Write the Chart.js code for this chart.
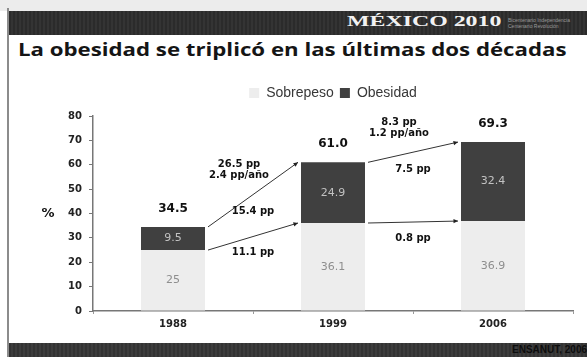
<!DOCTYPE html>
<html>
<head>
<meta charset="utf-8">
<script src="https://cdn.jsdelivr.net/npm/chart.js@4.4.1/dist/chart.umd.min.js"></script>
<style>
  html, body { margin: 0; padding: 0; background: #fff; }
  #slide { position: relative; width: 587px; height: 357px; overflow: hidden; background: #fff; }
  #topstrip { position: absolute; left: 0; top: 0; width: 587px; height: 11px; background: #ececec; }
  #border { position: absolute; left: 7px; top: 8px; width: 2px; height: 349px; background: #8c8c8c; }
  #header { position: absolute; left: 9px; top: 11px; width: 578px; height: 24px;
            background: repeating-linear-gradient(90deg, #2b2b2b 0 2px, #343434 2px 4px); }
  #brand { position: absolute; left: 347px; top: 14px; font: bold 14px "Liberation Serif"; color: #f2f2f2;
           transform-origin: 0 0; white-space: nowrap; }
  #bicent { position: absolute; left: 508px; top: 17px; font: 5px "Liberation Sans"; line-height: 6px;
            color: #9a9a9a; white-space: nowrap; }
  #title { position: absolute; left: 18px; top: 38px; font: bold 17px "Open Sans"; color: #151515;
           transform-origin: 0 0; white-space: nowrap; }
  #footer { position: absolute; left: 9px; top: 343px; width: 578px; height: 14px;
            background: repeating-linear-gradient(90deg, #333 0 2px, #3d3d3d 2px 4px); }
  #source { position: absolute; left: 512px; top: 344px; font: bold 10px "Liberation Sans"; color: #0d0d0d;
            white-space: nowrap; }
  #chartBox { position: absolute; left: 0; top: 80px; width: 587px; height: 263px; }
</style>
</head>
<body>
<div id="slide">
  <div id="topstrip"></div>
  <div id="header"></div>
  <div id="border"></div>
  <div id="brand">MÉXICO 2010</div>
  <div id="bicent">Bicentenario Independencia<br>Centenario Revolución</div>
  <div id="title">La obesidad se triplicó en las últimas dos décadas</div>
  <div id="chartBox"><canvas id="chart" width="587" height="263"></canvas></div>
  <div id="footer"></div>
  <div id="source">ENSANUT, 2006</div>
</div>
<script>
const years = ['1988', '1999', '2006'];
const sobrepeso = [25, 36.1, 36.9];
const obesidad = [9.5, 24.9, 32.4];
const totals = ['34.5', '61.0', '69.3'];
const totalChange = ['26.5 pp', '8.3 pp'];
const totalRate = ['2.4 pp/año', '1.2 pp/año'];
const obesidadChange = ['15.4 pp', '7.5 pp'];
const sobrepesoChange = ['11.1 pp', '0.8 pp'];

// stretch header texts to the widths seen on the slide
function fitWidth(id, w) {
  const el = document.getElementById(id);
  el.style.transform = 'scaleX(' + (w / el.offsetWidth) + ')';
}
fitWidth('brand', 155);
fitWidth('title', 549);

function arrow(ctx, x0, y0, x1, y1) {
  const a = Math.atan2(y1 - y0, x1 - x0);
  ctx.beginPath();
  ctx.moveTo(x0, y0);
  ctx.lineTo(x1, y1);
  ctx.stroke();
  ctx.beginPath();
  ctx.moveTo(x1, y1);
  ctx.lineTo(x1 - 5 * Math.cos(a - 0.45), y1 - 5 * Math.sin(a - 0.45));
  ctx.lineTo(x1 - 5 * Math.cos(a + 0.45), y1 - 5 * Math.sin(a + 0.45));
  ctx.closePath();
  ctx.fill();
}

// extra space under the legend
const legendGap = {
  id: 'legendGap',
  beforeInit(chart) {
    const fit = chart.legend.fit;
    chart.legend.fit = function () {
      fit.call(this);
      this.height += 6;
    };
  }
};

const annotate = {
  id: 'annotate',
  afterDatasetsDraw(chart) {
    const { ctx, scales: { y } } = chart;
    const sob = chart.getDatasetMeta(0).data;
    const obe = chart.getDatasetMeta(1).data;
    ctx.save();
    ctx.textAlign = 'center';
    ctx.textBaseline = 'middle';

    sob.forEach((bar, i) => {
      ctx.font = '11px "DejaVu Sans"';
      ctx.fillStyle = '#8e8e8e';
      ctx.fillText(String(sobrepeso[i]), bar.x, (bar.y + bar.base) / 2);
    });
    obe.forEach((bar, i) => {
      ctx.font = '11px "DejaVu Sans"';
      ctx.fillStyle = '#c2c2c2';
      ctx.fillText(String(obesidad[i]), bar.x, (bar.y + bar.base) / 2);
      ctx.font = 'bold 12px "DejaVu Sans"';
      ctx.fillStyle = '#111';
      ctx.fillText(totals[i], bar.x, bar.y - 18);
    });

    ctx.strokeStyle = '#333';
    ctx.fillStyle = '#222';
    ctx.lineWidth = 1;
    for (let i = 0; i < years.length - 1; i++) {
      const x0 = obe[i].x + obe[i].width / 2 + 3;
      const x1 = obe[i + 1].x - obe[i + 1].width / 2 - 3;
      arrow(ctx, x0, obe[i].y, x1, obe[i + 1].y);
      arrow(ctx, x0, sob[i].y, x1, sob[i + 1].y);
      const xm = (x0 + x1) / 2;
      const topMid = (obe[i].y + obe[i + 1].y) / 2;
      const botMid = (sob[i].y + sob[i + 1].y) / 2;
      ctx.font = 'bold 10px "DejaVu Sans"';
      ctx.fillStyle = '#111';
      ctx.fillText(totalChange[i], xm - 14, topMid - 30);
      ctx.fillText(totalRate[i], xm - 14, topMid - 19);
      ctx.fillText(obesidadChange[i], xm, topMid + 17);
      ctx.fillText(sobrepesoChange[i], xm, botMid + 16);
      ctx.fillStyle = '#222';
    }

    ctx.font = 'bold 13px "DejaVu Sans"';
    ctx.fillStyle = '#111';
    ctx.fillText('%', chart.chartArea.left - 45, y.getPixelForValue(40));
    ctx.restore();
  }
};

new Chart(document.getElementById('chart'), {
  type: 'bar',
  data: {
    labels: years,
    datasets: [
      { label: 'Sobrepeso', data: sobrepeso, backgroundColor: '#ededed', borderWidth: 0,
        barPercentage: 0.4, categoryPercentage: 1 },
      { label: 'Obesidad', data: obesidad, backgroundColor: '#404040', borderWidth: 0,
        barPercentage: 0.4, categoryPercentage: 1 }
    ]
  },
  options: {
    responsive: false,
    animation: false,
    devicePixelRatio: 1,
    layout: { padding: { left: 0, right: 14, top: 0, bottom: 0 } },
    plugins: {
      legend: {
        position: 'top',
        fullSize: false,
        labels: {
          font: { family: '"Liberation Sans"', size: 14 },
          color: '#383838',
          boxWidth: 10,
          boxHeight: 10,
          padding: 6
        }
      },
      tooltip: { enabled: false }
    },
    scales: {
      x: {
        stacked: true,
        afterFit(scale) { scale.height = 32; },
        grid: { drawOnChartArea: false, tickLength: 3, color: '#999' },
        border: { color: '#777', width: 1.5 },
        ticks: { font: { family: '"DejaVu Sans"', size: 10, weight: 'bold' }, color: '#222', padding: 4 }
      },
      y: {
        stacked: true,
        min: 0,
        max: 80,
        afterFit(scale) { scale.width = 93; },
        grid: { drawOnChartArea: false, tickLength: 4, color: '#777' },
        border: { color: '#777', width: 1.5 },
        ticks: { stepSize: 10, font: { family: '"DejaVu Sans"', size: 10, weight: 'bold' }, color: '#222', padding: 7 }
      }
    }
  },
  plugins: [legendGap, annotate]
});
</script>
</body>
</html>
